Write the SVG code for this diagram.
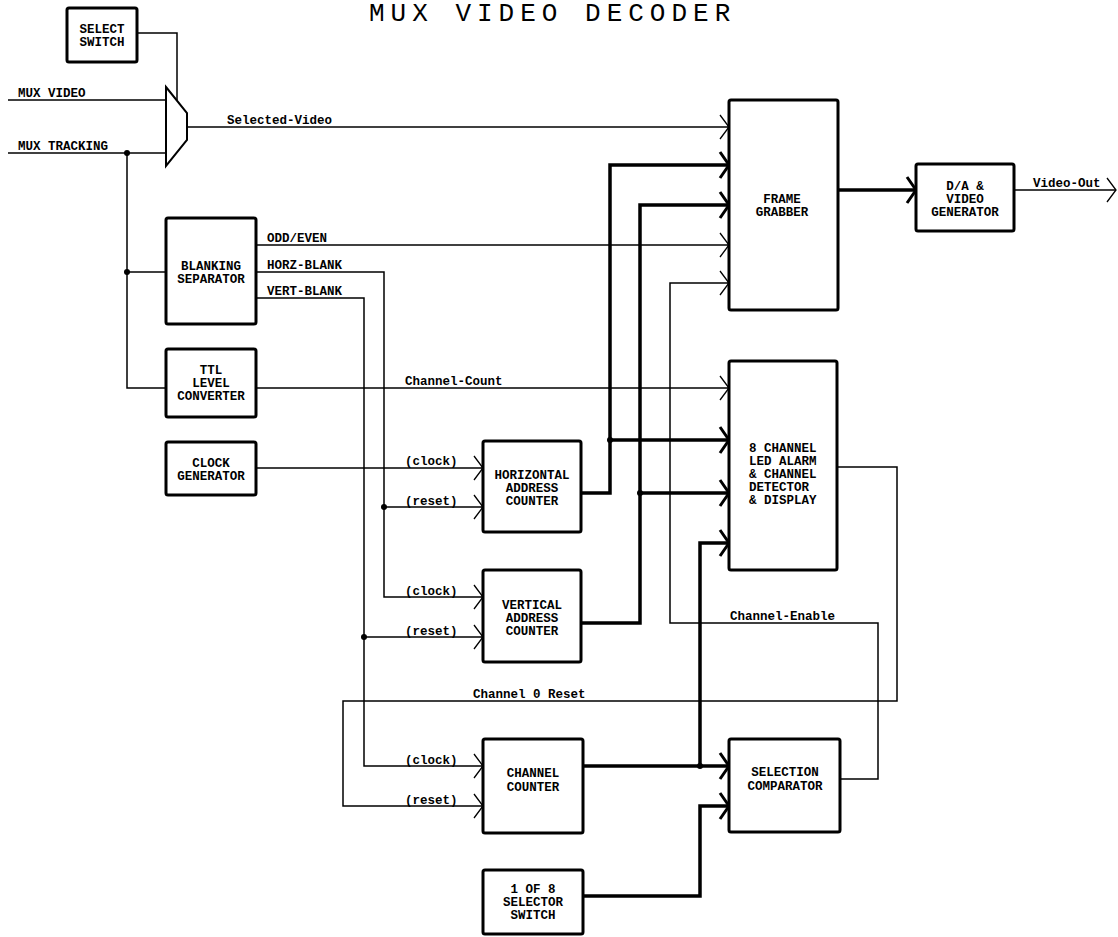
<svg xmlns="http://www.w3.org/2000/svg" width="1118" height="937" viewBox="0 0 1118 937">
<style>
.box{fill:#fff;stroke:#000;stroke-width:3;stroke-linejoin:round}
.t{font-family:"Liberation Mono","DejaVu Sans Mono",monospace;font-size:12.5px;font-weight:bold;fill:#000}
.c{text-anchor:middle}
.lbl{font-family:"Liberation Mono","DejaVu Sans Mono",monospace;font-size:12.5px;font-weight:bold;fill:#000}
.w{fill:none;stroke:#000;stroke-width:1.5}
.bus{fill:none;stroke:#000;stroke-width:3.5}
.title{font-family:"Liberation Mono","DejaVu Sans Mono",monospace;font-size:26px;fill:#000;letter-spacing:6px}
</style>
<defs>
<marker id="a" markerUnits="userSpaceOnUse" markerWidth="20" markerHeight="30" refX="0" refY="0" viewBox="-12 -15 14 30" orient="auto" overflow="visible">
<path d="M-9 -12 L0 0 L-9 12" fill="none" stroke="#000" stroke-width="1.3"/>
</marker>
<marker id="A" markerUnits="userSpaceOnUse" markerWidth="20" markerHeight="30" refX="0" refY="0" viewBox="-12 -15 14 30" orient="auto" overflow="visible">
<path d="M-9 -13 L0 0 L-9 13" fill="none" stroke="#000" stroke-width="3"/>
</marker>
</defs>
<rect width="1118" height="937" fill="#fff"/>
<text class="title" x="369" y="21">MUX VIDEO DECODER</text>

<g id="connectors">
<path class="w" d="M137 33 H177 V100"/>
<path class="w" d="M8 100 H166"/>
<path class="w" d="M8 153 H166"/>
<path class="w" d="M127 153 V388 H166"/>
<path class="w" d="M127 272 H166"/>
<path class="w" d="M187 127 H729" marker-end="url(#a)"/>
<path class="w" d="M256 245 H729" marker-end="url(#a)"/>
<path class="w" d="M256 272 H384 V597 H483" marker-end="url(#a)"/>
<path class="w" d="M384 507 H483" marker-end="url(#a)"/>
<path class="w" d="M256 298 H364 V766 H483" marker-end="url(#a)"/>
<path class="w" d="M364 637 H483" marker-end="url(#a)"/>
<path class="w" d="M256 388 H729" marker-end="url(#a)"/>
<path class="w" d="M256 468 H483" marker-end="url(#a)"/>
<path class="bus" d="M581 493 H610 V165 H729" marker-end="url(#A)"/>
<path class="bus" d="M610 440 H729" marker-end="url(#A)"/>
<path class="bus" d="M581 623 H640 V205 H729" marker-end="url(#A)"/>
<path class="bus" d="M640 493 H729" marker-end="url(#A)"/>
<path class="bus" d="M583 766 H729" marker-end="url(#A)"/>
<path class="bus" d="M700 766 V543 H729" marker-end="url(#A)"/>
<path class="bus" d="M583 896 H700 V806 H729" marker-end="url(#A)"/>
<path class="w" d="M840 779 H878 V623 H670 V283 H729" marker-end="url(#a)"/>
<path class="w" d="M837 467 H897 V701 H343 V806 H483" marker-end="url(#a)"/>
<path class="bus" d="M838 190 H916" marker-end="url(#A)"/>
<path class="w" d="M1014 190 H1116" marker-end="url(#a)"/>
<g fill="#000">
<circle cx="127" cy="153" r="3"/>
<circle cx="127" cy="272" r="3"/>
<circle cx="384" cy="507" r="3"/>
<circle cx="364" cy="637" r="3"/>
<circle cx="610" cy="440" r="3"/>
<circle cx="640" cy="493" r="3"/>
<circle cx="700" cy="766" r="3"/>
</g>
<text class="lbl" x="18" y="97">MUX VIDEO</text>
<text class="lbl" x="18" y="150">MUX TRACKING</text>
<text class="lbl" x="227" y="124">Selected-Video</text>
<text class="lbl" x="267" y="242">ODD/EVEN</text>
<text class="lbl" x="267" y="269">HORZ-BLANK</text>
<text class="lbl" x="267" y="295">VERT-BLANK</text>
<text class="lbl" x="405" y="385">Channel-Count</text>
<text class="lbl" x="405" y="465">(clock)</text>
<text class="lbl" x="405" y="505">(reset)</text>
<text class="lbl" x="405" y="595">(clock)</text>
<text class="lbl" x="405" y="635">(reset)</text>
<text class="lbl" x="405" y="764">(clock)</text>
<text class="lbl" x="405" y="804">(reset)</text>
<text class="lbl" x="473" y="698">Channel 0 Reset</text>
<text class="lbl" x="730" y="620">Channel-Enable</text>
<text class="lbl" x="1033" y="187">Video-Out</text>
</g>

<g id="select-switch">
<rect class="box" x="67" y="8" width="70" height="54" rx="2"/>
<text class="t c" x="102" y="33">SELECT</text>
<text class="t c" x="102" y="46">SWITCH</text>
</g>
<g id="mux">
<path d="M166 87 L187 113 L187 140 L166 166 Z" fill="#fff" stroke="#000" stroke-width="2"/>
</g>
<g id="blanking-separator">
<rect class="box" x="166" y="218" width="90" height="106" rx="2"/>
<text class="t c" x="211" y="270">BLANKING</text>
<text class="t c" x="211" y="283">SEPARATOR</text>
</g>
<g id="ttl-level-converter">
<rect class="box" x="166" y="349" width="90" height="68" rx="2"/>
<text class="t c" x="211" y="374">TTL</text>
<text class="t c" x="211" y="387">LEVEL</text>
<text class="t c" x="211" y="400">CONVERTER</text>
</g>
<g id="clock-generator">
<rect class="box" x="166" y="442" width="90" height="53" rx="2"/>
<text class="t c" x="211" y="467">CLOCK</text>
<text class="t c" x="211" y="480">GENERATOR</text>
</g>
<g id="horizontal-address-counter">
<rect class="box" x="483" y="441" width="98" height="91" rx="2"/>
<text class="t c" x="532" y="479">HORIZONTAL</text>
<text class="t c" x="532" y="492">ADDRESS</text>
<text class="t c" x="532" y="505">COUNTER</text>
</g>
<g id="vertical-address-counter">
<rect class="box" x="483" y="570" width="98" height="92" rx="2"/>
<text class="t c" x="532" y="609">VERTICAL</text>
<text class="t c" x="532" y="622">ADDRESS</text>
<text class="t c" x="532" y="635">COUNTER</text>
</g>
<g id="channel-counter">
<rect class="box" x="483" y="739" width="100" height="94" rx="2"/>
<text class="t c" x="533" y="777">CHANNEL</text>
<text class="t c" x="533" y="791">COUNTER</text>
</g>
<g id="selector-switch">
<rect class="box" x="483" y="870" width="100" height="64" rx="2"/>
<text class="t c" x="533" y="893">1 OF 8</text>
<text class="t c" x="533" y="906">SELECTOR</text>
<text class="t c" x="533" y="919">SWITCH</text>
</g>
<g id="frame-grabber">
<rect class="box" x="729" y="100" width="109" height="210" rx="2"/>
<text class="t c" x="782" y="203">FRAME</text>
<text class="t c" x="782" y="216">GRABBER</text>
</g>
<g id="led-alarm">
<rect class="box" x="729" y="361" width="108" height="209" rx="2"/>
<text class="t" x="749" y="452">8 CHANNEL</text>
<text class="t" x="749" y="465">LED ALARM</text>
<text class="t" x="749" y="478">&amp; CHANNEL</text>
<text class="t" x="749" y="491">DETECTOR</text>
<text class="t" x="749" y="504">&amp; DISPLAY</text>
</g>
<g id="selection-comparator">
<rect class="box" x="729" y="739" width="111" height="93" rx="2"/>
<text class="t c" x="785" y="776">SELECTION</text>
<text class="t c" x="785" y="790">COMPARATOR</text>
</g>
<g id="da-video-generator">
<rect class="box" x="916" y="164" width="98" height="67" rx="2"/>
<text class="t c" x="965" y="190">D/A &amp;</text>
<text class="t c" x="965" y="203">VIDEO</text>
<text class="t c" x="965" y="216">GENERATOR</text>
</g>
</svg>
